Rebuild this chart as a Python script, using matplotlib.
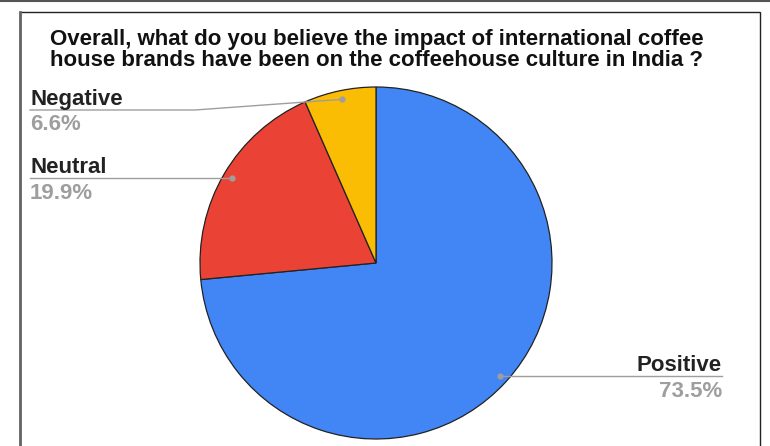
import numpy as np
import matplotlib
matplotlib.use("Agg")
import matplotlib.pyplot as plt
from matplotlib.lines import Line2D
from matplotlib.patches import Rectangle

# Survey responses
categories = ["Positive", "Neutral", "Negative"]
shares = [73.5, 19.9, 6.6]
pct_labels = ["73.5%", "19.9%", "6.6%"]
colors = ["#4285F4", "#EA4335", "#FBBC04"]
title_lines = ["Overall, what do you believe the impact of international coffee",
               "house brands have been on the coffeehouse culture in India ?"]

W, H = 770, 446
fig = plt.figure(figsize=(W / 100, H / 100), dpi=100)
plt.rcParams["font.family"] = ["Liberation Sans", "DejaVu Sans"]


def fx(x):
    return x / W


def fy(y):
    return 1 - y / H


# outer border and chart frame
fig.add_artist(Line2D([0, 1], [fy(0.5), fy(0.5)], color="#555555", lw=1.5))
fig.add_artist(Rectangle((fx(20), fy(470)), fx(740), (470 - 12) / H,
                         fill=False, edgecolor="#222222", lw=1.0))
fig.add_artist(Line2D([fx(20), fx(20)], [0, fy(12)], color="#666666", lw=2.0))

# pie: centre (376, 263) px, radius 176 px
cx, cy, r = 376, 263, 176
ax = fig.add_axes([fx(cx - r), fy(cy + r), 2 * r / W, 2 * r / H])
wedges, _ = ax.pie(shares, colors=colors, startangle=90, counterclock=False,
                   wedgeprops=dict(edgecolor="#222222", linewidth=0.9))
ax.set_xlim(-1, 1)
ax.set_ylim(-1, 1)
ax.set_aspect("equal")
ax.axis("off")

for i, line in enumerate(title_lines):
    fig.text(fx(50), fy(44.5 + 21 * i), line, fontsize=16, fontweight="bold",
             color="#111111", ha="left", va="baseline")


def anchor(i):
    w = wedges[i]
    mid = np.deg2rad((w.theta1 + w.theta2) / 2)
    return cx + 0.95 * r * np.cos(mid), cy - 0.95 * r * np.sin(mid)


line_c = "#9E9E9E"
label_kw = dict(fontsize=16, fontweight="bold", color="#222222")
pct_kw = dict(fontsize=16, fontweight="bold", color="#9E9E9E")

# Negative
ax_, ay_ = anchor(2)
fig.add_artist(Line2D([fx(30), fx(195), fx(ax_)], [fy(110), fy(110), fy(ay_)],
                      color=line_c, lw=1.0))
fig.add_artist(Line2D([fx(ax_)], [fy(ay_)], marker="o", ms=3.5, color=line_c))
fig.text(fx(30), fy(104.5), categories[2], ha="left", va="baseline", **label_kw)
fig.text(fx(30), fy(130.5), pct_labels[2], ha="left", va="baseline", **pct_kw)

# Neutral
ax_, ay_ = anchor(1)
fig.add_artist(Line2D([fx(30), fx(ax_)], [fy(ay_), fy(ay_)], color=line_c, lw=1.0))
fig.add_artist(Line2D([fx(ax_)], [fy(ay_)], marker="o", ms=3.5, color=line_c))
fig.text(fx(30), fy(ay_ - 5), categories[1], ha="left", va="baseline", **label_kw)
fig.text(fx(30), fy(ay_ + 21), pct_labels[1], ha="left", va="baseline", **pct_kw)

# Positive
ax_, ay_ = anchor(0)
fig.add_artist(Line2D([fx(ax_), fx(722)], [fy(ay_), fy(ay_)], color=line_c, lw=1.0))
fig.add_artist(Line2D([fx(ax_)], [fy(ay_)], marker="o", ms=3.5, color=line_c))
fig.text(fx(722), fy(ay_ - 5), categories[0], ha="right", va="baseline", **label_kw)
fig.text(fx(722), fy(ay_ + 21), pct_labels[0], ha="right", va="baseline", **pct_kw)

fig.savefig("out.png", dpi=100)
